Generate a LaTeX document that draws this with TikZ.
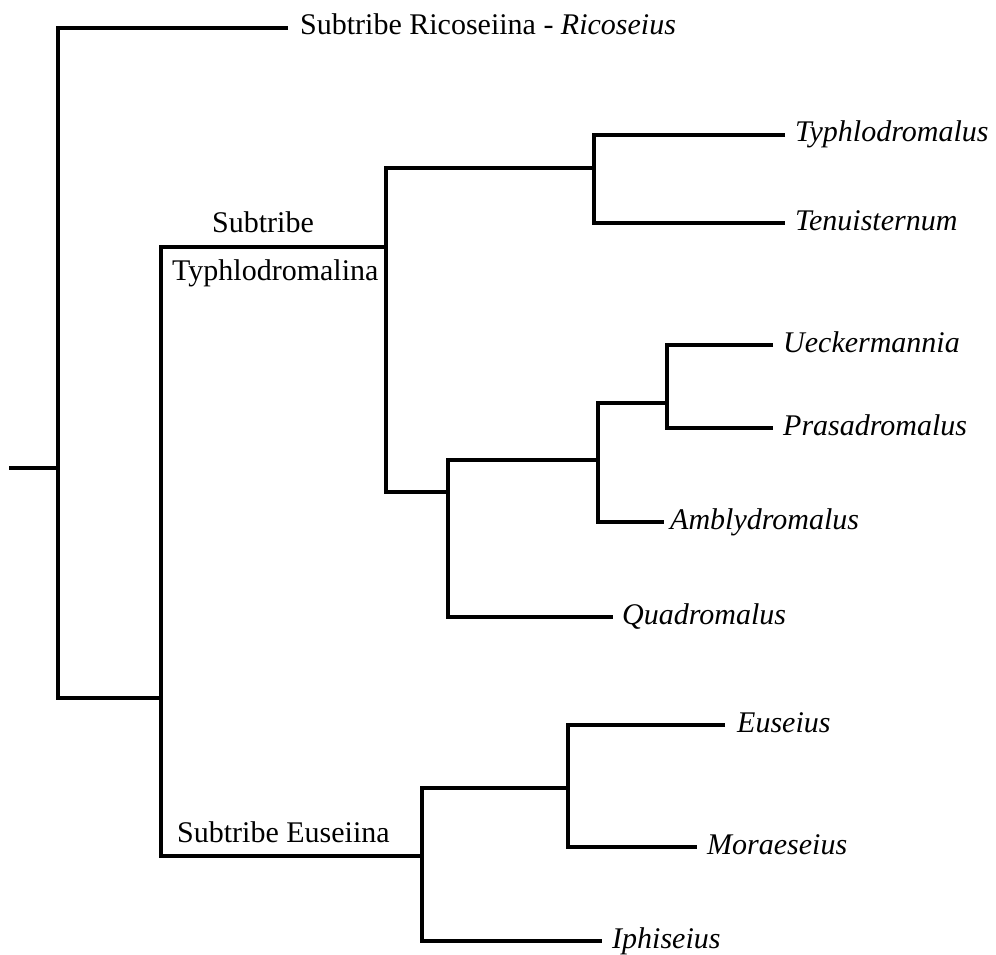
\documentclass[tikz,border=0pt]{standalone}
\usepackage{fontspec}
\setmainfont{Liberation Serif}
\begin{document}
\begin{tikzpicture}[x=1pt,y=-1pt,
  branch/.style={line width=4pt, line join=miter, line cap=butt},
  leaf/.style={anchor=west, inner xsep=10pt, inner ysep=0pt, text height=21pt, text depth=7pt,
    font=\fontsize{30}{36}\selectfont\itshape},
  grp/.style={inner sep=0pt, font=\fontsize{30}{36}\selectfont}]
\fill[white] (0,0) rectangle (996,955);
\useasboundingbox (0,0) rectangle (996,955);
% junctions
\coordinate (root) at (9,468);
\coordinate (j0) at (58,468);
\coordinate (j1) at (161,698);
\coordinate (jT) at (386,247);
\coordinate (jA) at (594,168);
\coordinate (jB) at (448,492);
\coordinate (jC) at (598,460);
\coordinate (jD) at (667,403);
\coordinate (jE) at (422,856);
\coordinate (jF) at (568,788);
% leaves
\node[leaf, inner xsep=12pt, font=\fontsize{30}{36}\selectfont] (rico) at (288,28) {Subtribe Ricoseiina - \textit{Ricoseius}};
\node[leaf] (typh) at (785,135) {Typhlodromalus};
\node[leaf] (ten) at (785,223) {Tenuisternum};
\node[leaf] (ueck) at (773,345) {Ueckermannia};
\node[leaf] (pras) at (773,428) {Prasadromalus};
\node[leaf, inner xsep=6pt] (ambly) at (664,522) {Amblydromalus};
\node[leaf, inner xsep=9pt] (quad) at (613,617) {Quadromalus};
\node[leaf, inner xsep=12pt] (eus) at (725,725) {Euseius};
\node[leaf] (mora) at (697,847) {Moraeseius};
\node[leaf] (iphi) at (602,941) {Iphiseius};
% group labels
\node[grp, anchor=base] (lsub) at (263,232) {Subtribe};
\node[grp, anchor=base west] (ltyph) at (172,280) {Typhlodromalina};
\node[grp, anchor=base west] (leus) at (177,842) {Subtribe Euseiina};
% branches
\draw[branch] (root) -- (j0);
\draw[branch] (rico.west) -| (j0) |- (j1);
\draw[branch] (jT) -| (j1) |- (jE);
\draw[branch] (jA) -| (jT) |- (jB);
\draw[branch] (typh.west) -| (jA) |- (ten.west);
\draw[branch] (jC) -| (jB) |- (quad.west);
\draw[branch] (jD) -| (jC) |- (ambly.west);
\draw[branch] (ueck.west) -| (jD) |- (pras.west);
\draw[branch] (jF) -| (jE) |- (iphi.west);
\draw[branch] (eus.west) -| (jF) |- (mora.west);
\end{tikzpicture}
\end{document}
